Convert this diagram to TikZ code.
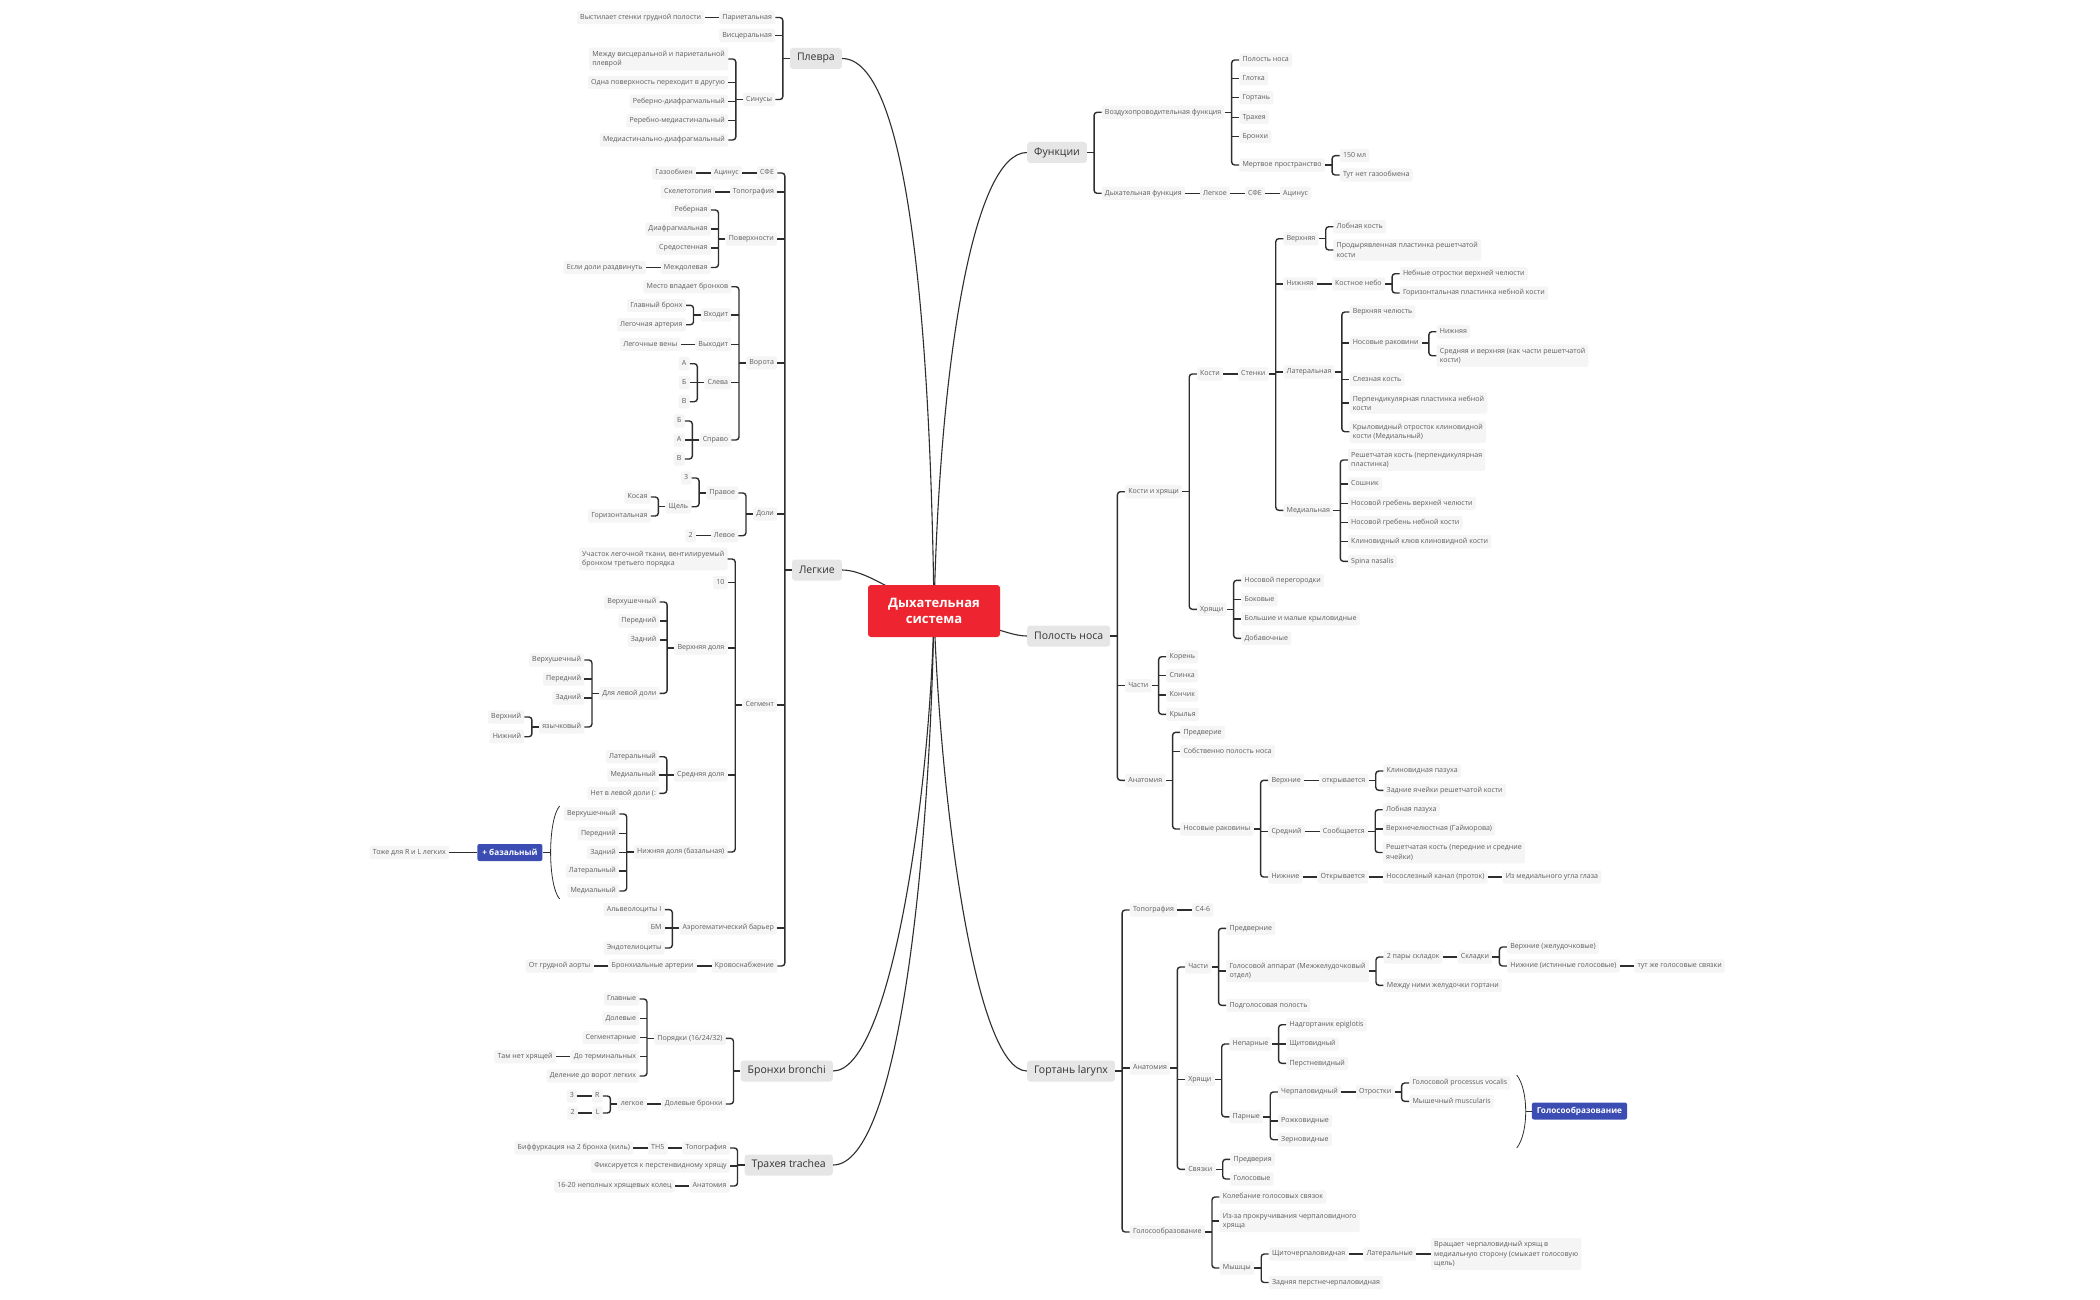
\documentclass[tikz,border=0pt]{standalone}
\usepackage{fontspec}
\setmainfont{Open Sans}
\usetikzlibrary{calc,backgrounds}
\definecolor{leafbg}{HTML}{F5F5F5}
\definecolor{leaftx}{HTML}{5E5E5E}
\definecolor{topbg}{HTML}{E6E6E6}
\definecolor{toptx}{HTML}{333333}
\definecolor{linec}{HTML}{2E2E2E}
\definecolor{cred}{HTML}{EE2530}
\definecolor{cblue}{HTML}{3B4DB3}
\tikzset{
 lf/.style={fill=leafbg, rounded corners=2pt, text=leaftx, font=\fontsize{7.05}{9.3}\selectfont, inner xsep=3.2pt, inner ysep=3.2pt, text height=5.1pt, text depth=1.6pt, align=left},
 ml/.style={text height={}, text depth={}},
 tp/.style={fill=topbg, rounded corners=3pt, text=toptx, font=\fontsize{10.5}{12}\selectfont, inner xsep=7pt, inner ysep=0pt, minimum height=21pt},
 cn/.style={draw=linec, line width=1.4pt, rounded corners=3pt},
 cnr/.style={draw=linec, line width=1.4pt},
 mc/.style={draw=linec, line width=1.1pt},
 brc/.style={draw=linec, line width=0.8pt},
 bl/.style={fill=cblue, rounded corners=2pt, text=white, font=\bfseries\fontsize{8.2}{9}\selectfont, inner xsep=5pt, inner ysep=0pt, minimum height=17pt},
 cen/.style={fill=cred, rounded corners=3pt, text=white, font=\bfseries\fontsize{13}{16}\selectfont, align=center, minimum width=132pt, minimum height=52pt, inner sep=2pt},
}
\newcommand\myL[4]{\path let \p1=(#2.west) in node[lf,anchor=east] (#1) at (\x1-14.5pt,-#3pt) {#4};}
\newcommand\myLm[4]{\path let \p1=(#2.west) in node[lf,ml,anchor=east] (#1) at (\x1-14.5pt,-#3pt) {#4};}
\newcommand\myR[4]{\path let \p1=(#2.east) in node[lf,anchor=west] (#1) at (\x1+14.5pt,-#3pt) {#4};}
\newcommand\myRm[4]{\path let \p1=(#2.east) in node[lf,ml,anchor=west] (#1) at (\x1+14.5pt,-#3pt) {#4};}
% brackets: parent, first child, last child; middle children with \lmid / \rmid
\newcommand\lbrk[3]{\coordinate (bx) at ([xshift=-7pt]#1.west); \draw[cnr] (#1.west) -- (bx); \draw[cn] (#2.east) -- (bx |- #2.east) -- (bx |- #3.east) -- (#3.east);}
\newcommand\lmid[1]{\foreach \ch in {#1}{\draw[cnr] (bx |- \ch.east) -- (\ch.east);}}
\newcommand\rbrk[3]{\coordinate (bx) at ([xshift=7pt]#1.east); \draw[cnr] (#1.east) -- (bx); \draw[cn] (#2.west) -- (bx |- #2.west) -- (bx |- #3.west) -- (#3.west);}
\newcommand\rmid[1]{\foreach \ch in {#1}{\draw[cnr] (bx |- \ch.west) -- (\ch.west);}}
\newcommand\lch[2]{\draw[cnr] (#1.west) -- (#2.east);}
\newcommand\rch[2]{\draw[cnr] (#1.east) -- (#2.west);}
\begin{document}
\begin{tikzpicture}[x=1pt,y=-1pt]
\useasboundingbox (0,0) rectangle (2100,1300);
% centre
\node[cen] (c0) at (934,611) {Дыхательная\\система};
% ===== Плевра
\node[tp,anchor=east] (pl) at (842,58.5) {Плевра};
\myL{pl1}{pl}{17.5}{Париетальная}
\myL{pl1a}{pl1}{17.5}{Выстилает стенки грудной полости}
\myL{pl2}{pl}{35.5}{Висцеральная}
\myL{pl3}{pl}{99.5}{Синусы}
\myLm{pl3a}{pl3}{59}{Между висцеральной и париетальной\\плеврой}
\myL{pl3b}{pl3}{82.5}{Одна поверхность переходит в другую}
\myL{pl3c}{pl3}{101.5}{Реберно-диафрагмальный}
\myL{pl3d}{pl3}{120.8}{Реребно-медиастинальный}
\myL{pl3e}{pl3}{140}{Медиастинально-диафрагмальный}
\lbrk{pl}{pl1}{pl3}\lmid{pl2}
\lch{pl1}{pl1a}
\lbrk{pl3}{pl3a}{pl3e}\lmid{pl3b,pl3c,pl3d}
% ===== Легкие
\node[tp,anchor=east] (lg) at (842,570) {Легкие};
\myL{lg1}{lg}{173}{СФЕ}
\myL{lg1a}{lg1}{173}{Ацинус}
\myL{lg1b}{lg1a}{173}{Газообмен}
\myL{lg2}{lg}{192}{Топография}
\myL{lg2a}{lg2}{192}{Скелетотопия}
\myL{lg3}{lg}{239}{Поверхности}
\myL{lg3a}{lg3}{210}{Реберная}
\myL{lg3b}{lg3}{229}{Диафрагмальная}
\myL{lg3c}{lg3}{248}{Средостенная}
\myL{lg3d}{lg3}{267.5}{Междолевая}
\myL{lg3e}{lg3d}{267.5}{Если доли раздвинуть}
\myL{lg4}{lg}{363}{Ворота}
\myL{lg4a}{lg4}{286.7}{Место впадает бронхов}
\myL{lg4b}{lg4}{315}{Входит}
\myL{lg4b1}{lg4b}{305.3}{Главный бронх}
\myL{lg4b2}{lg4b}{324.7}{Легочная артерия}
\myL{lg4c}{lg4}{344.3}{Выходит}
\myL{lg4c1}{lg4c}{344.3}{Легочные вены}
\myL{lg4d}{lg4}{382.7}{Слева}
\myL{lg4d1}{lg4d}{363.7}{А}
\myL{lg4d2}{lg4d}{382.7}{Б}
\myL{lg4d3}{lg4d}{401.7}{В}
\myL{lg4e}{lg4}{440}{Справо}
\myL{lg4e1}{lg4e}{421}{Б}
\myL{lg4e2}{lg4e}{440}{А}
\myL{lg4e3}{lg4e}{459}{В}
\myL{lg5}{lg}{514}{Доли}
\myL{lg5a}{lg5}{493}{Правое}
\myL{lg5a1}{lg5a}{478}{3}
\myL{lg5a2}{lg5a}{506.7}{Щель}
\myL{lg5a21}{lg5a2}{497}{Косая}
\myL{lg5a22}{lg5a2}{516}{Горизонтальная}
\myL{lg5b}{lg5}{535.7}{Левое}
\myL{lg5b1}{lg5b}{535.7}{2}
\myL{lg6}{lg}{705}{Сегмент}
\myLm{lg6a}{lg6}{559}{Участок легочной ткани, вентилируемый\\бронхом третьего порядка}
\myL{lg6b}{lg6}{582.7}{10}
\myL{lg6c}{lg6}{648}{Верхняя доля}
\myL{lg6c1}{lg6c}{602}{Верхушечный}
\myL{lg6c2}{lg6c}{621}{Передний}
\myL{lg6c3}{lg6c}{640}{Задний}
\myL{lg6c4}{lg6c}{693.3}{Для левой доли}
\myL{lg6c41}{lg6c4}{660}{Верхушечный}
\myL{lg6c42}{lg6c4}{679}{Передний}
\myL{lg6c43}{lg6c4}{698}{Задний}
\myL{lg6c44}{lg6c4}{727}{язычковый}
\myL{lg6c441}{lg6c44}{717}{Верхний}
\myL{lg6c442}{lg6c44}{736.7}{Нижний}
\myL{lg6d}{lg6}{775}{Средняя доля}
\myL{lg6d1}{lg6d}{756.7}{Латеральный}
\myL{lg6d2}{lg6d}{775}{Медиальный}
\myL{lg6d3}{lg6d}{793.3}{Нет в левой доли (:}
\myL{lg6e}{lg6}{852}{Нижняя доля (базальная)}
\myL{lg6e1}{lg6e}{814}{Верхушечный}
\myL{lg6e2}{lg6e}{833.7}{Передний}
\myL{lg6e3}{lg6e}{852.5}{Задний}
\myL{lg6e4}{lg6e}{871}{Латеральный}
\myL{lg6e5}{lg6e}{891}{Медиальный}
\myL{lg7}{lg}{928}{Аэрогематический барьер}
\myL{lg7a}{lg7}{909.6}{Альвеолоциты I}
\myL{lg7b}{lg7}{928}{БМ}
\myL{lg7c}{lg7}{948}{Эндотелиоциты}
\myL{lg8}{lg}{966}{Кровоснабжение}
\myL{lg8a}{lg8}{966}{Бронхиальные артерии}
\myL{lg8b}{lg8a}{966}{От грудной аорты}
\lbrk{lg}{lg1}{lg8}\lmid{lg2,lg3,lg4,lg5,lg6,lg7}
\lch{lg1}{lg1a}\lch{lg1a}{lg1b}\lch{lg2}{lg2a}
\lbrk{lg3}{lg3a}{lg3d}\lmid{lg3b,lg3c}\lch{lg3d}{lg3e}
\lbrk{lg4}{lg4a}{lg4e}\lmid{lg4b,lg4c,lg4d}
\lbrk{lg4b}{lg4b1}{lg4b2}\lch{lg4c}{lg4c1}
\lbrk{lg4d}{lg4d1}{lg4d3}\lmid{lg4d2}
\lbrk{lg4e}{lg4e1}{lg4e3}\lmid{lg4e2}
\lbrk{lg5}{lg5a}{lg5b}
\lbrk{lg5a}{lg5a1}{lg5a2}
\lbrk{lg5a2}{lg5a21}{lg5a22}
\lch{lg5b}{lg5b1}
\lbrk{lg6}{lg6a}{lg6e}\lmid{lg6b,lg6c,lg6d}
\lbrk{lg6c}{lg6c1}{lg6c4}\lmid{lg6c2,lg6c3}
\lbrk{lg6c4}{lg6c41}{lg6c44}\lmid{lg6c42,lg6c43}
\lbrk{lg6c44}{lg6c441}{lg6c442}
\lbrk{lg6d}{lg6d1}{lg6d3}\lmid{lg6d2}
\lbrk{lg6e}{lg6e1}{lg6e5}\lmid{lg6e2,lg6e3,lg6e4}
\lbrk{lg7}{lg7a}{lg7c}\lmid{lg7b}
\lch{lg8}{lg8a}\lch{lg8a}{lg8b}
% summary brace + базальный
\draw[brc] let \p1=(lg6e1.west) in (\x1-4pt,-806pt) .. controls (\x1-16pt,-820pt) and (\x1-16pt,-885pt) .. (\x1-4pt,-899pt);
\path let \p1=(lg6e1.west) in coordinate (bzm) at (\x1-13pt,-852.5pt);
\path let \p1=(lg6e1.west) in node[bl,anchor=east] (bz) at (\x1-21pt,-852.5pt) {+ базальный};
\draw[brc] (bzm) -- (bz.east);
\path let \p1=(bz.west) in node[lf,anchor=east] (tz) at (\x1-28pt,-852.5pt) {Тоже для R и L легких};
\draw[brc] (bz.west) -- (tz.east);
% ===== Бронхи
\node[tp,anchor=east] (br) at (833,1071) {Бронхи bronchi};
\myL{br1}{br}{1038.3}{Порядки (16/24/32)}
\myL{br11}{br1}{999}{Главные}
\myL{br12}{br1}{1018.3}{Долевые}
\myL{br13}{br1}{1037.5}{Сегментарные}
\myL{br14}{br1}{1056.7}{До терминальных}
\myL{br141}{br14}{1056.7}{Там нет хрящей}
\myL{br15}{br1}{1076}{Деление до ворот легких}
\myL{br2}{br}{1104}{Долевые бронхи}
\myL{br21}{br2}{1104}{легкое}
\myL{br211}{br21}{1096}{R}
\myL{br2111}{br211}{1096}{3}
\myL{br212}{br21}{1113}{L}
\myL{br2121}{br212}{1113}{2}
\lbrk{br}{br1}{br2}
\lbrk{br1}{br11}{br15}\lmid{br12,br13,br14}
\lch{br14}{br141}
\lch{br2}{br21}
\lbrk{br21}{br211}{br212}
\lch{br211}{br2111}\lch{br212}{br2121}
% ===== Трахея
\node[tp,anchor=east] (tr) at (833,1165) {Трахея trachea};
\myL{tr1}{tr}{1148}{Топография}
\myL{tr11}{tr1}{1148}{ТН5}
\myL{tr111}{tr11}{1148}{Биффуркация на 2 бронха (киль)}
\myL{tr2}{tr}{1166}{Фиксируется к перстенвидному хрящу}
\myL{tr3}{tr}{1186}{Анатомия}
\myL{tr31}{tr3}{1186}{16-20 неполных хрящевых колец}
\lbrk{tr}{tr1}{tr3}\lmid{tr2}
\lch{tr1}{tr11}\lch{tr11}{tr111}\lch{tr3}{tr31}
% ===== Функции
\node[tp,anchor=west] (fn) at (1027,152.5) {Функции};
\myR{fn1}{fn}{112.3}{Воздухопроводительная функция}
\myR{fn11}{fn1}{60}{Полость носа}
\myR{fn12}{fn1}{78.7}{Глотка}
\myR{fn13}{fn1}{97.7}{Гортань}
\myR{fn14}{fn1}{117.3}{Трахея}
\myR{fn15}{fn1}{136.7}{Бронхи}
\myR{fn16}{fn1}{165}{Мертвое пространство}
\myR{fn161}{fn16}{155.7}{150 мл}
\myR{fn162}{fn16}{175}{Тут нет газообмена}
\myR{fn2}{fn}{193.3}{Дыхательная функция}
\myR{fn21}{fn2}{193.3}{Легкое}
\myR{fn22}{fn21}{193.3}{СФЕ}
\myR{fn23}{fn22}{193.3}{Ацинус}
\rbrk{fn}{fn1}{fn2}
\rbrk{fn1}{fn11}{fn16}\rmid{fn12,fn13,fn14,fn15}
\rbrk{fn16}{fn161}{fn162}
\rch{fn2}{fn21}\rch{fn21}{fn22}\rch{fn22}{fn23}
% ===== Полость носа
\node[tp,anchor=west] (pn) at (1027,636) {Полость носа};
\myR{pn1}{pn}{491.7}{Кости и хрящи}
\myR{pn11}{pn1}{374}{Кости}
\myR{pn111}{pn11}{374}{Стенки}
\myR{pnA}{pn111}{238.7}{Верхняя}
\myR{pnA1}{pnA}{226.7}{Лобная кость}
\myRm{pnA2}{pnA}{250}{Продырявленная пластинка решетчатой\\кости}
\myR{pnB}{pn111}{283.8}{Нижняя}
\myR{pnB1}{pnB}{283.8}{Костное небо}
\myR{pnB11}{pnB1}{273.7}{Небные отростки верхней челюсти}
\myR{pnB12}{pnB1}{293}{Горизонтальная пластинка небной кости}
\myR{pnC}{pn111}{372}{Латеральная}
\myR{pnC1}{pnC}{312}{Верхняя челюсть}
\myR{pnC2}{pnC}{343}{Носовые раковини}
\myR{pnC21}{pnC2}{331.7}{Нижняя}
\myRm{pnC22}{pnC2}{355.7}{Средняя и верхняя (как части решетчатой\\кости)}
\myR{pnC3}{pnC}{379.5}{Слезная кость}
\myRm{pnC4}{pnC}{403}{Перпендикулярная пластинка небной\\кости}
\myRm{pnC5}{pnC}{431.7}{Крыловидный отросток клиновидной\\кости (Медиальный)}
\myR{pnD}{pn111}{510.3}{Медиальная}
\myRm{pnD1}{pnD}{460}{Решетчатая кость (перпендикулярная\\пластинка)}
\myR{pnD2}{pnD}{484}{Сошник}
\myR{pnD3}{pnD}{503.3}{Носовой гребень верхней челюсти}
\myR{pnD4}{pnD}{522.7}{Носовой гребень небной кости}
\myR{pnD5}{pnD}{541.7}{Клиновидный клюв клиновидной кости}
\myR{pnD6}{pnD}{561.3}{Spina nasalis}
\myR{pn12}{pn1}{609.3}{Хрящи}
\myR{pn121}{pn12}{580.3}{Носовой перегородки}
\myR{pn122}{pn12}{599.7}{Боковые}
\myR{pn123}{pn12}{618.8}{Большие и малые крыловидные}
\myR{pn124}{pn12}{638.3}{Добавочные}
\myR{pn2}{pn}{685.7}{Части}
\myR{pn21}{pn2}{656.7}{Корень}
\myR{pn22}{pn2}{675.7}{Спинка}
\myR{pn23}{pn2}{695}{Кончик}
\myR{pn24}{pn2}{714.3}{Крылья}
\myR{pn3}{pn}{780.3}{Анатомия}
\myR{pn31}{pn3}{732.3}{Предверие}
\myR{pn32}{pn3}{751.3}{Собственно полость носа}
\myR{pn33}{pn3}{829}{Носовые раковины}
\myR{pnE}{pn33}{780.3}{Верхние}
\myR{pnE1}{pnE}{780.3}{открывается}
\myR{pnE11}{pnE1}{771}{Клиновидная пазуха}
\myR{pnE12}{pnE1}{790.3}{Задние ячейки решетчатой кости}
\myR{pnF}{pn33}{831.3}{Средний}
\myR{pnF1}{pnF}{831.3}{Сообщается}
\myR{pnF11}{pnF1}{809.7}{Лобная пазуха}
\myR{pnF12}{pnF1}{829}{Верхнечелюстная (Гайморова)}
\myRm{pnF13}{pnF1}{852.5}{Решетчатая кость (передние и средние\\ячейки)}
\myR{pnG}{pn33}{877}{Нижние}
\myR{pnG1}{pnG}{877}{Открывается}
\myR{pnG2}{pnG1}{877}{Носослезный канал (проток)}
\myR{pnG3}{pnG2}{877}{Из медиального угла глаза}
\rbrk{pn}{pn1}{pn3}\rmid{pn2}
\rbrk{pn1}{pn11}{pn12}
\rch{pn11}{pn111}
\rbrk{pn111}{pnA}{pnD}\rmid{pnB,pnC}
\rbrk{pnA}{pnA1}{pnA2}
\rch{pnB}{pnB1}
\rbrk{pnB1}{pnB11}{pnB12}
\rbrk{pnC}{pnC1}{pnC5}\rmid{pnC2,pnC3,pnC4}
\rbrk{pnC2}{pnC21}{pnC22}
\rbrk{pnD}{pnD1}{pnD6}\rmid{pnD2,pnD3,pnD4,pnD5}
\rbrk{pn12}{pn121}{pn124}\rmid{pn122,pn123}
\rbrk{pn2}{pn21}{pn24}\rmid{pn22,pn23}
\rbrk{pn3}{pn31}{pn33}\rmid{pn32}
\rbrk{pn33}{pnE}{pnG}\rmid{pnF}
\rch{pnE}{pnE1}\rbrk{pnE1}{pnE11}{pnE12}
\rch{pnF}{pnF1}\rbrk{pnF1}{pnF11}{pnF13}\rmid{pnF12}
\rch{pnG}{pnG1}\rch{pnG1}{pnG2}\rch{pnG2}{pnG3}
% ===== Гортань
\node[tp,anchor=west] (gt) at (1027,1071) {Гортань larynx};
\myR{gt1}{gt}{910}{Топография}
\myR{gt11}{gt1}{910}{С4-6}
\myR{gt2}{gt}{1068}{Анатомия}
\myR{gtA}{gt2}{967}{Части}
\myR{gtA1}{gtA}{928.3}{Предверние}
\myRm{gtA2}{gtA}{971}{Голосовой аппарат (Межжелудочковый\\отдел)}
\myR{gtA21}{gtA2}{957}{2 пары складок}
\myR{gtA211}{gtA21}{957}{Складки}
\myR{gtA2111}{gtA211}{947}{Верхние (желудочковые)}
\myR{gtA2112}{gtA211}{966}{Нижние (истинные голосовые)}
\myR{gtA21121}{gtA2112}{966}{тут же голосовые связки}
\myR{gtA22}{gtA2}{985.3}{Между ними желудочки гортани}
\myR{gtA3}{gtA}{1005.3}{Подголосовая полость}
\myR{gtB}{gt2}{1079.5}{Хрящи}
\myR{gtB1}{gtB}{1044}{Непарные}
\myR{gtB11}{gtB1}{1024.7}{Надгортаник epiglotis}
\myR{gtB12}{gtB1}{1044}{Щитовидный}
\myR{gtB13}{gtB1}{1063.3}{Перстневидный}
\myR{gtB2}{gtB}{1116.8}{Парные}
\myR{gtB21}{gtB2}{1092}{Черпаловидный}
\myR{gtB211}{gtB21}{1092}{Отростки}
\myR{gtB2111}{gtB211}{1083}{Голосовой processus vocalis}
\myR{gtB2112}{gtB211}{1101.3}{Мышечный muscularis}
\myR{gtB22}{gtB2}{1120.8}{Рожковидные}
\myR{gtB23}{gtB2}{1139.7}{Зерновидные}
\myR{gtC}{gt2}{1169.3}{Связки}
\myR{gtC1}{gtC}{1159.3}{Предверия}
\myR{gtC2}{gtC}{1179}{Голосовые}
\myR{gt3}{gt}{1232}{Голосообразование}
\myR{gt31}{gt3}{1197}{Колебание голосовых связок}
\myRm{gt32}{gt3}{1221}{Из-за прокручивания черпаловидного\\хряща}
\myR{gt33}{gt3}{1268}{Мышцы}
\myR{gt331}{gt33}{1254}{Щиточерпаловидная}
\myR{gt3311}{gt331}{1254}{Латеральные}
\myRm{gt33111}{gt3311}{1254}{Вращает черпаловидный хрящ в\\медиальную сторону (смыкает голосовую\\щель)}
\myR{gt332}{gt33}{1282.5}{Задняя перстнечерпаловидная}
\rbrk{gt}{gt1}{gt3}\rmid{gt2}
\rch{gt1}{gt11}
\rbrk{gt2}{gtA}{gtC}\rmid{gtB}
\rbrk{gtA}{gtA1}{gtA3}\rmid{gtA2}
\rbrk{gtA2}{gtA21}{gtA22}
\rch{gtA21}{gtA211}
\rbrk{gtA211}{gtA2111}{gtA2112}
\rch{gtA2112}{gtA21121}
\rbrk{gtB}{gtB1}{gtB2}
\rbrk{gtB1}{gtB11}{gtB13}\rmid{gtB12}
\rbrk{gtB2}{gtB21}{gtB23}\rmid{gtB22}
\rch{gtB21}{gtB211}
\rbrk{gtB211}{gtB2111}{gtB2112}
\rbrk{gtC}{gtC1}{gtC2}
\rbrk{gt3}{gt31}{gt33}\rmid{gt32}
\rbrk{gt33}{gt331}{gt332}
\rch{gt331}{gt3311}\rch{gt3311}{gt33111}
% summary brace Голосообразование
\draw[brc] let \p1=(gtB2111.east) in (\x1+6pt,-1075pt) .. controls (\x1+18pt,-1090pt) and (\x1+18pt,-1133pt) .. (\x1+6pt,-1148pt);
\path let \p1=(gtB2111.east) in coordinate (gbm) at (\x1+15pt,-1111pt);
\path let \p1=(gtB2111.east) in node[bl,anchor=west] (gb) at (\x1+21pt,-1111pt) {Голосообразование};
\draw[brc] (gbm) -- (gb.west);
% ===== main curves
\begin{pgfonlayer}{background}
\fill[white] (0,0) rectangle (2100,1300);
\draw[mc] (c0.center) .. controls (930,300) and (905,58.5) .. (pl.east);
\draw[mc] (c0.center) .. controls (890,590) and (865,570) .. (lg.east);
\draw[mc] (c0.center) .. controls (930,800) and (890,1071) .. (br.east);
\draw[mc] (c0.center) .. controls (930,850) and (900,1165) .. (tr.east);
\draw[mc] (c0.center) .. controls (940,350) and (975,152.5) .. (fn.west);
\draw[mc] (c0.center) .. controls (990,625) and (1010,636) .. (pn.west);
\draw[mc] (c0.center) .. controls (940,800) and (975,1071) .. (gt.west);
\end{pgfonlayer}
\end{tikzpicture}
\end{document}
